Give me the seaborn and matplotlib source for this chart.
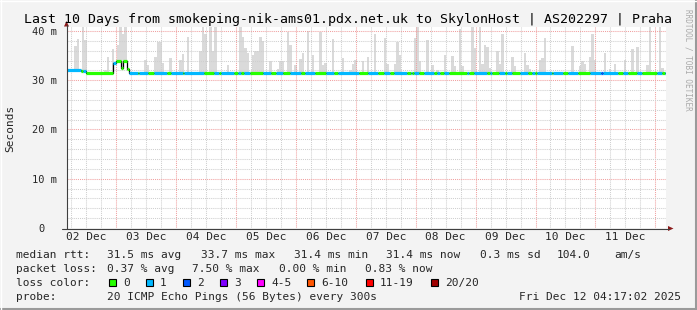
import matplotlib
matplotlib.use("Agg")
import matplotlib.pyplot as plt
import seaborn as sns
import pandas as pd
from matplotlib.lines import Line2D
from matplotlib.patches import Polygon, Rectangle

# ---------------- data ----------------
window_start = pd.Timestamp("2025-12-02 04:17:02")
window_hours = 240

# smoke: hourly bins (hours since window start) and top of ping spread (ms)
smoke_hour = [3, 4, 6, 7, 15, 16, 18, 20, 21, 22, 23, 31, 32, 35, 36, 37, 38,
              41, 45, 46, 48, 53, 54, 55, 57, 58, 59, 64, 69, 70, 71, 72, 74, 75, 76, 77, 78,
              81, 84, 85, 86, 88, 89, 91, 93, 94, 96, 98, 101, 102, 103, 106, 110, 113, 114, 115, 118,
              120, 123, 127, 128, 131, 132, 133, 139, 140, 141, 144, 146, 148, 151, 154, 155, 157, 158,
              162, 163, 165, 166, 167, 168, 169, 172, 173, 174, 178, 179, 183, 184, 185, 189, 190, 191,
              202, 205, 206, 207, 209, 210, 211, 215, 217, 219, 223, 226, 228, 232, 233, 237, 238]
smoke_top_ms = [37.0, 38.4, 41.0, 38.2, 32.1, 34.8, 36.3, 37.2, 41.0, 39.3, 41.0, 34.1, 33.0, 34.8, 37.7, 37.7, 33.4,
                34.5, 34.1, 35.3, 38.7, 36.0, 41.0, 39.4, 41.0, 36.0, 41.0, 33.0, 41.0, 38.7, 36.5, 35.5, 35.2, 35.9, 35.9, 38.7, 37.9,
                34.0, 32.3, 34.0, 34.0, 39.7, 37.2, 33.0, 34.3, 35.5, 39.9, 35.2, 39.7, 33.0, 33.4, 38.4, 34.5, 32.1, 33.3, 34.1, 34.0,
                34.8, 39.4, 38.6, 33.3, 33.2, 37.7, 35.2, 38.6, 41.0, 33.9, 38.2, 33.0, 32.1, 35.2, 35.0, 32.8, 40.4, 32.8,
                41.0, 36.5, 41.0, 33.2, 37.2, 36.8, 32.4, 36.0, 33.2, 39.3, 34.8, 32.8, 35.5, 33.0, 32.3, 34.1, 34.5, 38.6,
                37.0, 32.8, 34.0, 33.2, 34.8, 39.3, 34.1, 35.6, 32.3, 33.3, 34.1, 36.3, 36.8, 33.0, 41.0, 41.0, 32.4]

# median rtt (step changes)
median_change_hour = [0, 5.7, 7.6, 18.5, 19.6, 21.6, 22.3, 24.0, 24.7]
median_ms = [32.0, 31.9, 31.55, 33.4, 33.8, 32.4, 33.8, 32.2, 31.5]

# packet loss category (index into loss legend) step changes
loss_change_hour = [0, 5.7, 6.5, 7.6, 18.5, 19.6, 24.7, 28.3, 28.9, 32.3, 34.9, 40.0, 41.8, 46.3, 46.9,
                    54.9, 59.0, 60.9, 61.6, 67.0, 68.5, 69.6, 70.9, 73.4, 78.5, 81.9, 83.9, 86.5, 89.2,
                    93.9, 95.2, 99.2, 103.9, 107.0, 108.4, 116.8, 120.5, 124.5, 126.9, 129.6, 130.9,
                    136.4, 137.9, 138.3, 138.9, 140.9, 142.9, 146.9, 148.3, 149.6, 150.9, 152.9, 160.3,
                    160.9, 162.9, 168.3, 169.6, 170.3, 172.9, 175.6, 176.3, 178.3, 181.6, 184.9, 186.3,
                    187.6, 188.3, 194.3, 194.9, 198.9, 200.9, 204.9, 209.6, 213.9, 214.7, 220.9, 222.9,
                    224.9, 228.3, 230.3, 236.3, 238.3, 239.6]
loss_level = [1, 0, 1, 0, 1, 0, 1, 0, 1, 0, 1, 0, 1, 0, 1,
              0, 1, 0, 1, 0, 1, 0, 1, 0, 1, 0, 1, 0, 1,
              0, 1, 0, 1, 0, 1, 0, 1, 0, 1, 0, 1,
              0, 1, 0, 1, 0, 1, 0, 1, 0, 1, 0, 1,
              0, 1, 0, 1, 0, 1, 0, 1, 0, 1, 0, 1,
              0, 1, 0, 1, 0, 1, 0, 1, 2, 1, 0, 1,
              0, 1, 0, 1, 0, 1]

loss_labels = ["0", "1", "2", "3", "4-5", "6-10", "11-19", "20/20"]
loss_colors = ["#26ff00", "#00b8ff", "#0059ff", "#7e00ff", "#ff00ff", "#ff5500", "#ff0000", "#a00000"]

ytick_ms = [0, 10, 20, 30, 40]
ytick_labels = ["0  ", "10 m", "20 m", "30 m", "40 m"]

title = "Last 10 Days from smokeping-nik-ams01.pdx.net.uk to SkylonHost | AS202297 | Praha"
row_rtt = [("median rtt:", 16), ("31.5 ms avg", 107), ("33.7 ms max", 201), ("31.4 ms min", 294),
           ("31.4 ms now", 386), ("0.3 ms sd", 480), ("104.0", 557), ("am/s", 614)]
row_loss = [("packet loss:", 16), ("0.37 % avg", 107), ("7.50 % max", 192), ("0.00 % min", 279),
            ("0.83 % now", 365)]
probe_text = "20 ICMP Echo Pings (56 Bytes) every 300s"
stamp_text = "Fri Dec 12 04:17:02 2025"

# ---------------- figure ----------------
W, H = 697, 310
MONO = "DejaVu Sans Mono"
sns.set_theme(style="white")
plt.rcParams["font.family"] = [MONO]

def fx(x):
    return x / W

def fy(y):
    return 1 - y / H

fig = plt.figure(figsize=(W / 100, H / 100), dpi=100, facecolor="#f3f3f3")
ax = fig.add_axes([fx(67), fy(228), 599 / W, 201 / H])
ax.set_facecolor("white")
ax.set_xlim(0, window_hours)
ax.set_ylim(0, 40.8)
for s in ax.spines.values():
    s.set_visible(False)

# time grid
first_midnight = (window_start.normalize() + pd.Timedelta(days=1) - window_start) / pd.Timedelta(hours=1)
midnights = [first_midnight + 24 * k for k in range(10)]
minors = [first_midnight % 6 + 6 * k for k in range(41)]
noons = [first_midnight - 12 + 24 * k for k in range(10)]
day_labels = [(window_start.normalize() + pd.Timedelta(days=k)).strftime("%d %b") for k in range(10)]

dot = (0, (1, 1))
for h in minors:
    if min(abs(h - m) for m in midnights) > 0.1 and h < window_hours:
        ax.axvline(h, color="#cfcfcf", lw=0.75, ls=dot, zorder=2)
for h in midnights:
    ax.axvline(h, color="#f0a0a0", lw=0.75, ls=dot, zorder=2)
for v in range(2, 41, 2):
    if v % 10:
        ax.axhline(v, color="#cfcfcf", lw=0.75, ls=dot, zorder=2)
for v in ytick_ms[1:]:
    ax.axhline(v, color="#f0a0a0", lw=0.75, ls=dot, zorder=2)

# median lookup helper
def step_value(changes, values, h):
    val = values[0]
    for c, v in zip(changes, values):
        if c <= h:
            val = v
    return val

# smoke
bottoms = [step_value(median_change_hour, median_ms, h) for h in smoke_hour]
heights = [t - b for t, b in zip(smoke_top_ms, bottoms)]
ax.bar(smoke_hour, heights, bottom=bottoms, width=1.0, align="edge",
       color="#dadada", linewidth=0, zorder=1)

# black median step line
mdf = pd.DataFrame({"hour": median_change_hour + [window_hours],
                    "ms": median_ms + [median_ms[-1]]})
sns.lineplot(data=mdf, x="hour", y="ms", drawstyle="steps-post", color="black",
             lw=0.9, ax=ax, zorder=3)

# coloured median by loss
bounds = sorted(set(median_change_hour + loss_change_hour + [window_hours]))
for a, b in zip(bounds[:-1], bounds[1:]):
    m = step_value(median_change_hour, median_ms, a)
    c = loss_colors[step_value(loss_change_hour, loss_level, a)]
    ax.plot([a, b], [m, m], color=c, lw=2.3, solid_capstyle="butt", zorder=4)

# ticks
ax.set_xticks(noons, day_labels)
ax.set_yticks(ytick_ms, ytick_labels)
ax.tick_params(axis="x", length=0, pad=3, labelsize=8)
ax.tick_params(axis="y", length=0, pad=7, labelsize=7.5)
for lab in ax.get_xticklabels() + ax.get_yticklabels():
    lab.set_family(MONO)
ax.set_xlabel("")
ax.set_ylabel("")

# axis lines and arrows
fig.add_artist(Line2D([fx(66.5), fx(66.5)], [fy(229), fy(25)], color="#404040", lw=0.8))
fig.add_artist(Line2D([fx(62), fx(669)], [fy(228.5), fy(228.5)], color="#404040", lw=0.8))
fig.add_artist(Polygon([(fx(64), fy(26.5)), (fx(69), fy(26.5)), (fx(66.5), fy(21))],
                       closed=True, color="#8b1a1a", lw=0))
fig.add_artist(Polygon([(fx(668), fy(226)), (fx(668), fy(231)), (fx(673.5), fy(228.5))],
                       closed=True, color="#8b1a1a", lw=0))

# frame
fig.add_artist(Line2D([0, 1], [fy(309), fy(309)], color="#9a9a9a", lw=1.5))
fig.add_artist(Line2D([fx(696), fx(696)], [0, 1], color="#9a9a9a", lw=1.5))
fig.add_artist(Line2D([0, 1], [fy(0.5), fy(0.5)], color="#ffffff", lw=1))
fig.add_artist(Line2D([fx(0.5), fx(0.5)], [0, 1], color="#ffffff", lw=1))

# texts
fig.text(fx(348), fy(23.5), title, ha="center", va="baseline", fontsize=9.5, family=MONO, color="#000000")
fig.text(fx(10), fy(128), "Seconds", rotation=90, ha="center", va="center", fontsize=8, family=MONO)
fig.text(fx(688), fy(60), "RRDTOOL / TOBI OETIKER", rotation=270, ha="center", va="center",
         fontsize=5.5, family=MONO, color="#aaaaaa")

base1 = 257.7
for txt, x in row_rtt:
    fig.text(fx(x), fy(base1), txt, ha="left", va="baseline", fontsize=8, family=MONO)
for txt, x in row_loss:
    fig.text(fx(x), fy(base1 + 14), txt, ha="left", va="baseline", fontsize=8, family=MONO)
fig.text(fx(16), fy(base1 + 28), "loss color:", ha="left", va="baseline", fontsize=8, family=MONO)
box_x = [108.5, 145.5, 182.5, 219.5, 256.5, 306.5, 365.5, 431]
for bx, lab, col in zip(box_x, loss_labels, loss_colors):
    fig.add_artist(Rectangle((fx(bx), fy(286)), 7 / W, 7.5 / H, facecolor=col,
                             edgecolor="black", lw=0.8))
    fig.text(fx(bx + 14.5), fy(base1 + 28), lab, ha="left", va="baseline", fontsize=8, family=MONO)
fig.text(fx(16), fy(base1 + 42), "probe:", ha="left", va="baseline", fontsize=8, family=MONO)
fig.text(fx(107), fy(base1 + 42), probe_text, ha="left", va="baseline", fontsize=8, family=MONO)
fig.text(fx(681), fy(base1 + 42), stamp_text, ha="right", va="baseline", fontsize=8, family=MONO)

fig.savefig("out.png", dpi=100, facecolor=fig.get_facecolor())
